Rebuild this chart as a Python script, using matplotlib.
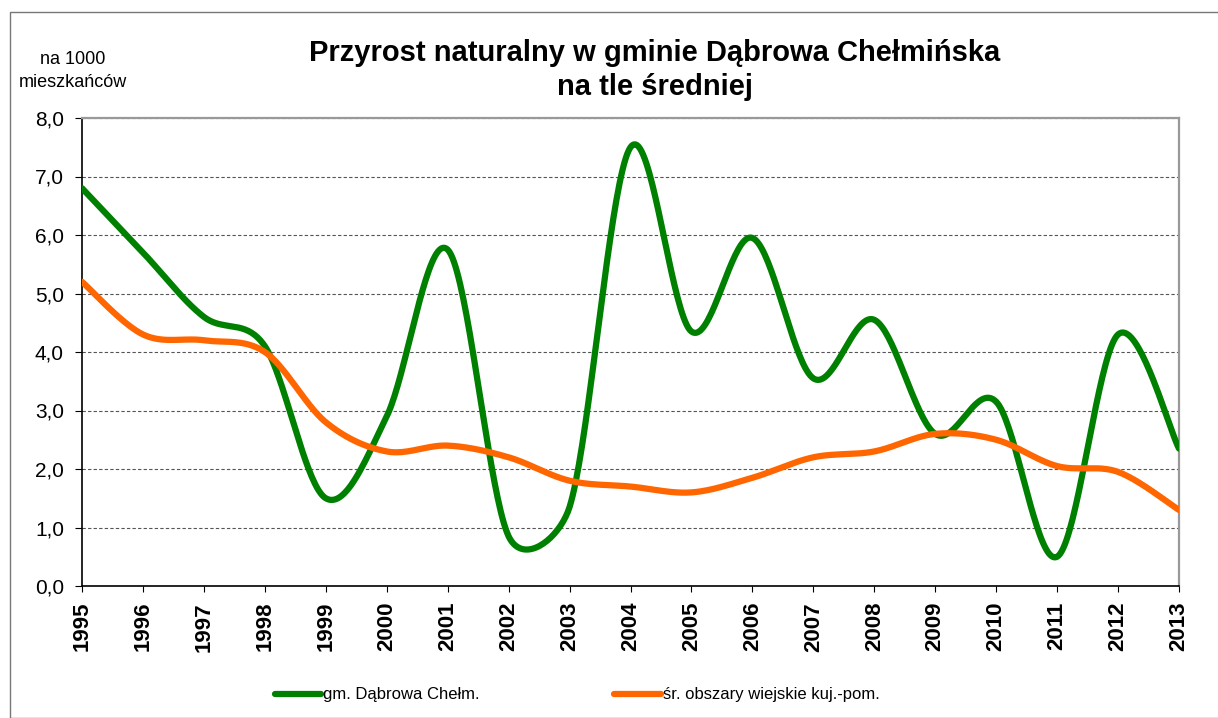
import numpy as np
import matplotlib
matplotlib.use('Agg')
import matplotlib.pyplot as plt
from matplotlib.ticker import FuncFormatter
from matplotlib.patches import Rectangle

plt.rcParams['font.family'] = ['Liberation Sans', 'DejaVu Sans']

# Data
years = list(range(1995, 2014))
gmina = [6.8, 5.7, 4.6, 4.1, 1.5, 2.9, 5.75, 0.85, 1.35, 7.5,
         4.35, 5.95, 3.55, 4.55, 2.6, 3.15, 0.5, 4.3, 2.35]
wies = [5.2, 4.3, 4.2, 4.0, 2.8, 2.3, 2.4, 2.2, 1.8, 1.7,
        1.6, 1.85, 2.2, 2.3, 2.6, 2.5, 2.05, 1.95, 1.3]

label_gmina = 'gm. Dąbrowa Chełm.'
label_wies = 'śr. obszary wiejskie kuj.-pom.'


def smooth(x, y, sx=61.0, sy=58.5, n=40):
    # Excel-like smoothed line: Bezier segments, control arms limited
    # to half of the segment (measured in screen pixels)
    pts = np.column_stack([np.asarray(x, float) * sx, np.asarray(y, float) * sy])
    t = np.linspace(0, 1, n)[:, None]
    out = []
    for i in range(len(pts) - 1):
        p1, p2 = pts[i], pts[i + 1]
        p0 = pts[i - 1] if i > 0 else p1
        p3 = pts[i + 2] if i + 2 < len(pts) else p2
        d12 = np.hypot(*(p2 - p1))
        d02 = np.hypot(*(p2 - p0))
        d13 = np.hypot(*(p3 - p1))
        f1 = 1 / 6 if d02 / 6 <= d12 / 2 else d12 / (2 * d02)
        f2 = 1 / 6 if d13 / 6 <= d12 / 2 else d12 / (2 * d13)
        c1 = p1 + f1 * (p2 - p0)
        c2 = p2 - f2 * (p3 - p1)
        b = (1 - t) ** 3 * p1 + 3 * (1 - t) ** 2 * t * c1 + 3 * (1 - t) * t ** 2 * c2 + t ** 3 * p2
        out.append(b)
    b = np.vstack(out)
    return b[:, 0] / sx, b[:, 1] / sy


fig = plt.figure(figsize=(12.18, 7.18), dpi=100)
ax = fig.add_axes([82 / 1218, 1 - 586 / 718, (1179 - 82) / 1218, (586 - 118) / 718])

gx, gy = smooth(years, gmina)
ox, oy = smooth(years, wies)
ax.plot(gx, gy, color='#008000', lw=4.5, solid_capstyle='round', label=label_gmina, zorder=3)
ax.plot(ox, oy, color='#FF6600', lw=4.5, solid_capstyle='round', label=label_wies, zorder=3)

ax.set_xlim(years[0], years[-1])
ax.set_ylim(0, 8)
ax.set_yticks(np.arange(0, 8.01, 1))
ax.yaxis.set_major_formatter(FuncFormatter(lambda v, p: f'{v:.1f}'.replace('.', ',')))
ax.set_xticks(years)
ax.set_xticklabels([str(y) for y in years], rotation=90, fontsize=16, fontweight='bold')
ax.tick_params(axis='y', labelsize=15, length=5, color='#000000', pad=8)
ax.tick_params(axis='x', length=4.5, color='#000000', pad=7)
ax.grid(axis='y', linestyle=(0, (3, 2)), color='#555555', lw=0.8)
ax.set_axisbelow(True)

for s in ['left', 'bottom']:
    ax.spines[s].set_color('black')
    ax.spines[s].set_linewidth(1.2)
for s in ['top', 'right']:
    ax.spines[s].set_color('#999999')
    ax.spines[s].set_linewidth(1.6)

fig.text(655 / 1218, 1 - 70 / 718, 'Przyrost naturalny w gminie Dąbrowa Chełmińska\nna tle średniej',
         ha='center', va='center', fontsize=21, fontweight='bold', linespacing=1.25)
fig.text(73 / 1218, 1 - 71 / 718, 'na 1000\nmieszkańców', ha='center', va='center', fontsize=13,
         linespacing=1.45)

leg = fig.legend(loc='center', bbox_to_anchor=(577 / 1218, 1 - 695 / 718), ncol=2, frameon=False,
                 fontsize=12, handlelength=2.8, handletextpad=0.1, columnspacing=8.1)

fig.patches.append(Rectangle((10 / 1218, 0), 1.5, 1 - 12 / 718, transform=fig.transFigure,
                             fill=False, edgecolor='#777777', lw=1))

fig.savefig('out.png', dpi=100)
